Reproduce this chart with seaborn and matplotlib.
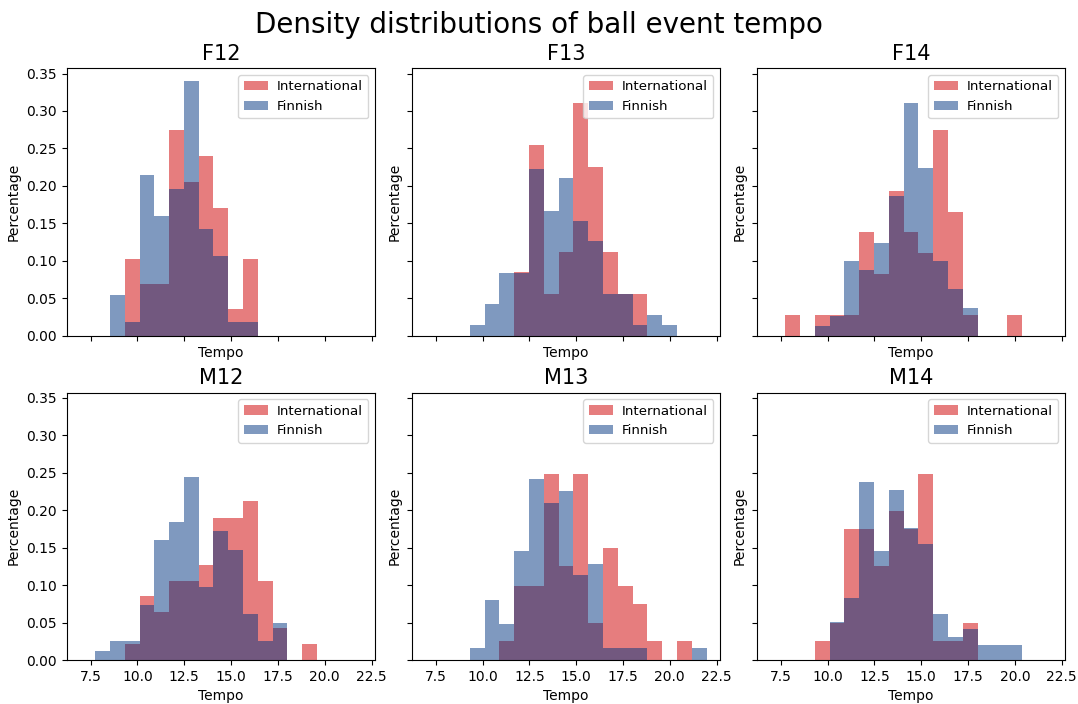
import numpy as np
import pandas as pd
import matplotlib
matplotlib.use('Agg')
import matplotlib.pyplot as plt
import seaborn as sns

# shared bin edges (18 bins) used by every panel
bin_edges = np.linspace(7.74, 21.96, 19)
groups = ['F12', 'F13', 'F14', 'M12', 'M13', 'M14']

# density height per bin
international = {
    'F12': [0, 0, 0.103, 0.069, 0.069, 0.274, 0.205, 0.240, 0.171, 0.035, 0.103, 0, 0, 0, 0, 0, 0, 0],
    'F13': [0, 0, 0, 0, 0, 0.085, 0.254, 0.056, 0.112, 0.310, 0.225, 0.112, 0.056, 0.056, 0, 0, 0, 0],
    'F14': [0.0275, 0, 0.0275, 0.0275, 0.0275, 0.138, 0.083, 0.193, 0.138, 0.110, 0.275, 0.165, 0.0275, 0, 0, 0.0275, 0, 0],
    'M12': [0, 0, 0.022, 0.085, 0.064, 0.105, 0.105, 0.127, 0.190, 0.190, 0.212, 0.105, 0.043, 0, 0.021, 0, 0, 0],
    'M13': [0, 0, 0, 0, 0.025, 0.099, 0.099, 0.249, 0.125, 0.249, 0.050, 0.149, 0.099, 0.075, 0.025, 0, 0.025, 0],
    'M14': [0, 0, 0.025, 0.050, 0.175, 0.175, 0.125, 0.199, 0.175, 0.249, 0.025, 0.025, 0.050, 0, 0, 0, 0, 0],
}
finnish = {
    'F12': [0, 0.054, 0.018, 0.214, 0.160, 0.196, 0.340, 0.143, 0.107, 0.018, 0.018, 0, 0, 0, 0, 0, 0, 0],
    'F13': [0, 0, 0.014, 0.042, 0.084, 0.084, 0.223, 0.167, 0.210, 0.153, 0.126, 0.056, 0.056, 0.014, 0.028, 0.014, 0, 0],
    'F14': [0, 0, 0.013, 0.026, 0.100, 0.088, 0.124, 0.187, 0.311, 0.224, 0.100, 0.062, 0.037, 0, 0, 0, 0, 0],
    'M12': [0.012, 0.025, 0.025, 0.073, 0.160, 0.184, 0.244, 0.098, 0.172, 0.147, 0.061, 0.025, 0.049, 0, 0, 0, 0, 0],
    'M13': [0, 0, 0.016, 0.080, 0.048, 0.145, 0.241, 0.209, 0.225, 0.113, 0.128, 0.016, 0.016, 0.016, 0, 0, 0, 0.016],
    'M14': [0, 0, 0, 0.051, 0.083, 0.237, 0.145, 0.227, 0.176, 0.155, 0.062, 0.031, 0.042, 0.020, 0.020, 0.020, 0, 0],
}

bin_mids = (bin_edges[:-1] + bin_edges[1:]) / 2

fig, axes = plt.subplots(2, 3, figsize=(10.78, 7.04), sharex=True, sharey=True)
for ax, g in zip(axes.flat, groups):
    df_int = pd.DataFrame({'tempo': bin_mids, 'h': international[g]})
    df_fin = pd.DataFrame({'tempo': bin_mids, 'h': finnish[g]})
    sns.histplot(data=df_int, x='tempo', weights='h', bins=list(bin_edges), stat='count',
                 color='#d62728', alpha=0.6, linewidth=0,
                 label='International', ax=ax)
    sns.histplot(data=df_fin, x='tempo', weights='h', bins=list(bin_edges), stat='count',
                 color='#003580', alpha=0.5, linewidth=0,
                 label='Finnish', ax=ax)
    ax.set_title(g, fontsize=15)
    ax.set_xlabel('Tempo')
    ax.set_ylabel('Percentage')
    ax.xaxis.label.set_visible(True)
    ax.yaxis.label.set_visible(True)
    ax.legend(loc='upper right', fontsize=9.6, handlelength=1.8, handletextpad=0.7)

axes[0, 0].set_xlim(6.23, 22.68)
axes[0, 0].set_xticks([7.5, 10.0, 12.5, 15.0, 17.5, 20.0, 22.5])
axes[0, 0].set_yticks(np.arange(0, 0.36, 0.05))
fig.suptitle('Density distributions of ball event tempo', fontsize=20, y=0.985)
fig.subplots_adjust(left=0.062, right=0.988, top=0.903, bottom=0.0625,
                    wspace=0.12, hspace=0.213)
plt.savefig('out.png', dpi=100)
